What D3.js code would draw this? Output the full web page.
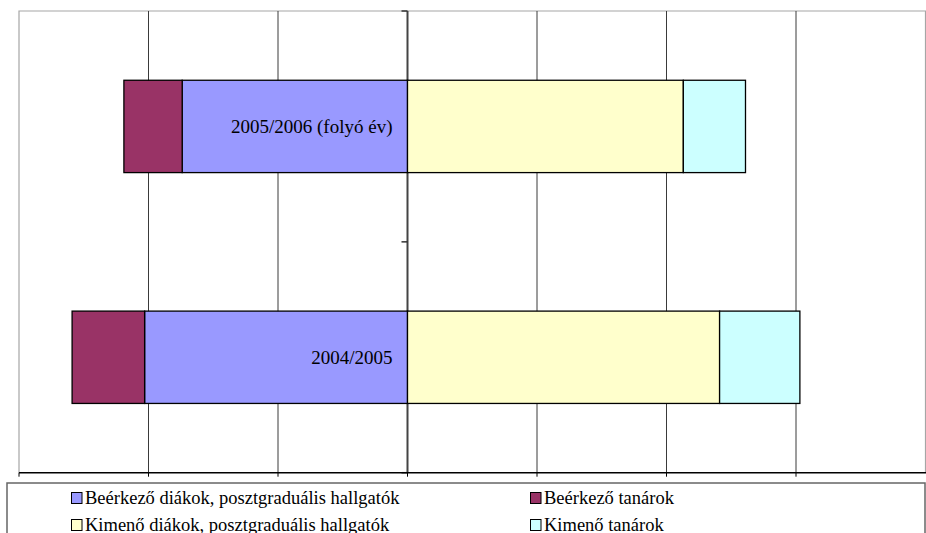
<!DOCTYPE html>
<html>
<head>
<meta charset="utf-8">
<script src="https://d3js.org/d3.v7.min.js"></script>
<style>
  body { margin: 0; background: #fff; }
  svg { display: block; }
</style>
</head>
<body>
<div id="chart"></div>
<script>
// data (one grid step = 10 units)
const CATEGORIES = ["2005/2006 (folyó év)", "2004/2005"];
const IN_STUDENTS = [17.4, 20.3];   // Beérkező diákok, posztgraduális hallgatók
const IN_TEACHERS = [4.5, 5.6];     // Beérkező tanárok
const OUT_STUDENTS = [21.3, 24.1];  // Kimenő diákok, posztgraduális hallgatók
const OUT_TEACHERS = [4.8, 6.2];    // Kimenő tanárok
const X_TICKS = [-30, -20, -10, 0, 10, 20, 30, 40];

const SERIES = [
  {name: "Beérkező diákok, posztgraduális hallgatók", color: "#9999ff"},
  {name: "Beérkező tanárok", color: "#993366"},
  {name: "Kimenő diákok, posztgraduális hallgatók", color: "#ffffcc"},
  {name: "Kimenő tanárok", color: "#ccffff"}
];

// declare constants
const FRAME_WIDTH = 926;
const FRAME_HEIGHT = 533;
const PLOT = {left: 19, right: 925.5, top: 11, bottom: 472.7};
const FONT = "'Times New Roman', Times, 'Liberation Serif', 'Noto Serif', 'DejaVu Serif', serif";

const FRAME = d3.select("#chart")
  .append("svg")
    .attr("width", FRAME_WIDTH)
    .attr("height", FRAME_HEIGHT)
    .style("font-family", FONT);

// scales
const X_SCALE = d3.scaleLinear()
  .domain([-30, 40])
  .range([PLOT.left, PLOT.right]);

const Y_SCALE = d3.scaleBand()
  .domain(CATEGORIES)
  .range([PLOT.top, PLOT.bottom])
  .paddingInner(0.6)
  .paddingOuter(0.3);

// stacked segments: [x0, x1] for each category and series
const rows = CATEGORIES.map((c, i) => {
  return {
    cat: c,
    segs: [
      {s: 0, x0: -IN_STUDENTS[i], x1: 0},
      {s: 1, x0: -IN_STUDENTS[i] - IN_TEACHERS[i], x1: -IN_STUDENTS[i]},
      {s: 2, x0: 0, x1: OUT_STUDENTS[i]},
      {s: 3, x0: OUT_STUDENTS[i], x1: OUT_STUDENTS[i] + OUT_TEACHERS[i]}
    ]
  };
});

// plot area border (top, left, right)
FRAME.append("path")
  .attr("d", "M" + PLOT.left + "," + PLOT.bottom + "V" + PLOT.top + "H" + PLOT.right + "V" + PLOT.bottom)
  .attr("fill", "none")
  .attr("stroke", "#a6a6a6")
  .attr("stroke-width", 1.2);

// vertical gridlines
FRAME.selectAll(".grid")
  .data(X_TICKS.filter(t => t > -30 && t < 40 && t !== 0))
  .enter().append("line")
    .attr("class", "grid")
    .attr("x1", d => X_SCALE(d))
    .attr("x2", d => X_SCALE(d))
    .attr("y1", PLOT.top)
    .attr("y2", PLOT.bottom)
    .attr("stroke", "#3a3a3a")
    .attr("stroke-width", 1);

// category axis at zero (under the bars)
const yAxis = FRAME.append("g")
  .attr("transform", "translate(" + X_SCALE(0) + ",0)");

yAxis.append("line")
  .attr("x1", 0).attr("x2", 0)
  .attr("y1", PLOT.top).attr("y2", PLOT.bottom)
  .attr("stroke", "#444")
  .attr("stroke-width", 2);

const step = Y_SCALE.step();
yAxis.selectAll(".ytick")
  .data([0, 1, 2])
  .enter().append("line")
    .attr("class", "ytick")
    .attr("x1", -6).attr("x2", 0)
    .attr("y1", d => PLOT.top + d * step)
    .attr("y2", d => PLOT.top + d * step)
    .attr("stroke", "#333")
    .attr("stroke-width", 1.5);

// bars
const groups = FRAME.selectAll(".row")
  .data(rows)
  .enter().append("g")
    .attr("class", "row");

groups.selectAll("rect")
  .data(d => d.segs.map(s => Object.assign({cat: d.cat}, s)))
  .enter().append("rect")
    .attr("x", d => X_SCALE(d.x0))
    .attr("y", d => Y_SCALE(d.cat))
    .attr("width", d => X_SCALE(d.x1) - X_SCALE(d.x0))
    .attr("height", Y_SCALE.bandwidth())
    .attr("fill", d => SERIES[d.s].color)
    .attr("stroke", "#000")
    .attr("stroke-width", 1.3);

// category labels sit inside the bars, left of the zero line
FRAME.selectAll(".ylabel")
  .data(CATEGORIES)
  .enter().append("text")
    .attr("class", "ylabel")
    .attr("x", X_SCALE(0) - 15)
    .attr("y", d => Y_SCALE(d) + Y_SCALE.bandwidth() / 2)
    .attr("dy", "0.35em")
    .attr("text-anchor", "end")
    .attr("font-size", "19px")
    .attr("fill", "#000")
    .text(d => d);

// value axis at the bottom, no labels
const xAxis = FRAME.append("g")
  .attr("transform", "translate(0," + PLOT.bottom + ")");

xAxis.append("line")
  .attr("x1", PLOT.left).attr("x2", PLOT.right + 1)
  .attr("stroke", "#000")
  .attr("stroke-width", 1.5);

xAxis.selectAll(".xtick")
  .data(X_TICKS.filter(t => t < 40))
  .enter().append("line")
    .attr("class", "xtick")
    .attr("x1", d => X_SCALE(d))
    .attr("x2", d => X_SCALE(d))
    .attr("y1", 0)
    .attr("y2", 4)
    .attr("stroke", "#000")
    .attr("stroke-width", 1);

// legend
const LEGEND = {left: 7, top: 483, right: 925};
FRAME.append("rect")
  .attr("x", LEGEND.left)
  .attr("y", LEGEND.top)
  .attr("width", LEGEND.right - LEGEND.left)
  .attr("height", 70)
  .attr("fill", "#fff")
  .attr("stroke", "#666")
  .attr("stroke-width", 1.5);

const legendPos = [
  {x: 71, y: 492},
  {x: 530, y: 492},
  {x: 71, y: 519},
  {x: 530, y: 519}
];

const items = FRAME.selectAll(".legend")
  .data(SERIES)
  .enter().append("g")
    .attr("class", "legend")
    .attr("transform", (d, i) => "translate(" + legendPos[i].x + "," + legendPos[i].y + ")");

items.append("rect")
  .attr("x", 0.5)
  .attr("y", 0.5)
  .attr("width", 10.5)
  .attr("height", 11)
  .attr("fill", d => d.color)
  .attr("stroke", "#000")
  .attr("stroke-width", 1);

items.append("text")
  .attr("x", 14)
  .attr("y", 11.5)
  .attr("font-size", "18.5px")
  .attr("fill", "#000")
  .text(d => d.name);
</script>
</body>
</html>
